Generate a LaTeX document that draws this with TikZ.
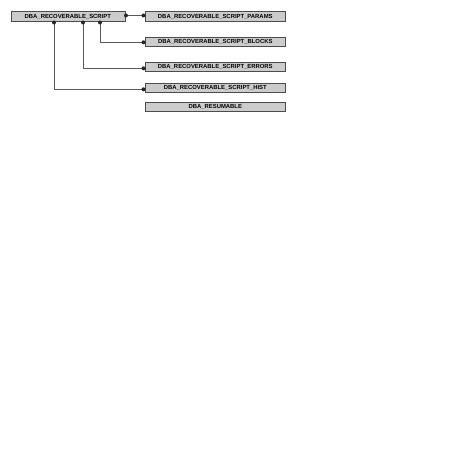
\documentclass[tikz,border=0pt]{standalone}
\usepackage{fontspec}
\setmainfont{Liberation Sans}
\begin{document}
\begin{tikzpicture}[x=1pt,y=-1pt,
  tbl/.style={draw=black!70,fill=black!20,line width=0.6pt,inner sep=0pt,anchor=north west,
    font=\fontsize{5.9}{6}\selectfont\bfseries},
  conn/.style={draw=black!65,line width=0.6pt},
  dot/.style={circle,fill=black!85,inner sep=0pt,minimum size=4pt}]
\useasboundingbox (0,0) rectangle (474,449);
\node[tbl,minimum width=114pt,minimum height=9.5pt] (main) at (10.5,11.5) {DBA\_RECOVERABLE\_SCRIPT};
\node[tbl,minimum width=140pt,minimum height=9.5pt] (params) at (145,11.5) {DBA\_RECOVERABLE\_SCRIPT\_PARAMS};
\node[tbl,minimum width=140pt,minimum height=9.5pt] (blocks) at (145,36.7) {DBA\_RECOVERABLE\_SCRIPT\_BLOCKS};
\node[tbl,minimum width=140pt,minimum height=9.5pt] (errors) at (145,61.7) {DBA\_RECOVERABLE\_SCRIPT\_ERRORS};
\node[tbl,minimum width=140pt,minimum height=9.5pt] (hist) at (145,82.7) {DBA\_RECOVERABLE\_SCRIPT\_HIST};
\node[tbl,minimum width=140pt,minimum height=9.5pt] (resum) at (145,101.7) {DBA\_RESUMABLE};
% connector endpoints
\coordinate (m1) at (126,15.5);
\coordinate (p1) at (143.5,15.5);
\coordinate (m2) at (100,22.5);
\coordinate (c2) at (100,42.3);
\coordinate (b2) at (143.5,42.3);
\coordinate (m3) at (83,22.5);
\coordinate (c3) at (83,68.3);
\coordinate (e3) at (143.5,68.3);
\coordinate (m4) at (54,22.5);
\coordinate (c4) at (54,89.3);
\coordinate (h4) at (143.5,89.3);
\draw[conn] (m1) -- (p1);
\draw[conn] (m2) -- (c2) -- (b2);
\draw[conn] (m3) -- (c3) -- (e3);
\draw[conn] (m4) -- (c4) -- (h4);
\foreach \p in {m1,p1,m2,b2,m3,e3,m4,h4} \node[dot] at (\p) {};
\end{tikzpicture}
\end{document}
